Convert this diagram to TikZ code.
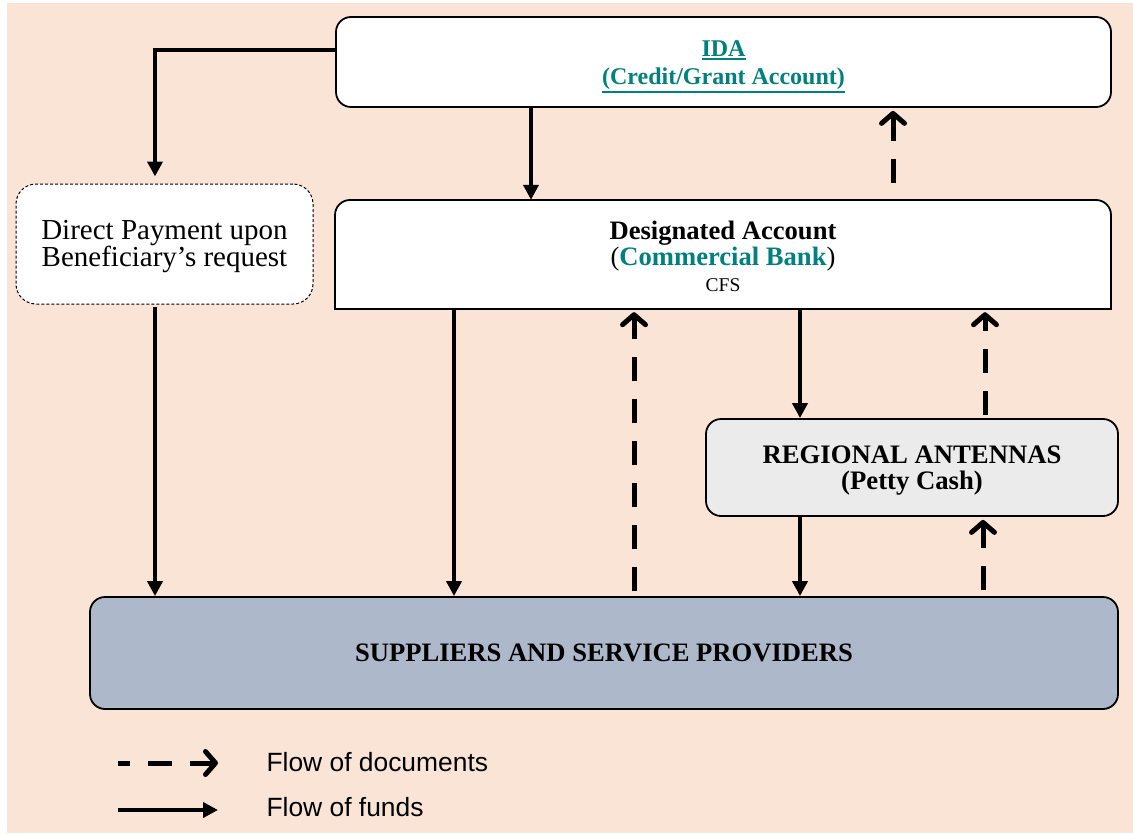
\documentclass[tikz,border=0pt]{standalone}
\usepackage{fontspec}
\setmainfont{Liberation Serif}
\newfontfamily\legendfont{Liberation Sans}
\usetikzlibrary{arrows.meta}
\definecolor{bgpeach}{RGB}{250,228,214}
\definecolor{tealtxt}{RGB}{0,128,128}
\definecolor{suppfill}{RGB}{173,184,202}
\definecolor{regfill}{RGB}{235,235,235}
\newcommand\myul[1]{\leavevmode\vtop{\hbox{#1}\kern1.2pt\hrule height 1.8pt}}
\begin{document}
\begin{tikzpicture}[x=1pt,y=-1pt,
  box/.style={draw, line width=1.8pt, rounded corners=15pt, inner sep=0pt},
  txt/.style={align=center, inner sep=0pt},
  fund/.style={line width=4pt, -{Triangle[length=15pt,width=15pt]}},
  doc/.style={line width=5pt, dash pattern=on 24pt off 18pt, -{Straight Barb[length=10pt,width=23pt,round]}},
  legtext/.style={anchor=west, font=\legendfont\fontsize{26.4}{28}\selectfont}
]
\useasboundingbox (0,0) rectangle (1133,835);
\fill[bgpeach] (7,3) rectangle (1133,833);

% IDA
\node[box, fill=white, minimum width=775pt, minimum height=90pt] (ida) at (723.5,62) {};
\node[txt, font=\fontsize{24}{28}\selectfont\bfseries, text=tealtxt] (idat) at (723.5,67)
  {\myul{IDA}\\\myul{(Credit/Grant Account)}};

% Direct payment
\node[draw, line width=1pt, dash pattern=on 3pt off 2pt, rounded corners=20pt,
  fill=white, inner sep=0pt, minimum width=297pt, minimum height=120pt] (dp) at (164.5,244) {};
\node[txt, font=\fontsize{29}{27}\selectfont] (dpt) at (164.5,247)
  {Direct Payment upon\\Beneficiary's request};

% Designated account (rounded top corners only)
\fill[white] (335,309) -- (335,215) arc[start angle=180,end angle=270,radius=15]
  -- (1096,200) arc[start angle=270,end angle=360,radius=15] -- (1111,309) -- cycle;
\draw[line width=1.8pt] (335,309) -- (335,215) arc[start angle=180,end angle=270,radius=15]
  -- (1096,200) arc[start angle=270,end angle=360,radius=15] -- (1111,309) -- cycle;
\node[inner sep=0pt, minimum width=776pt, minimum height=109pt] (da) at (723,254.5) {};
\node[txt] (dat) at (723,256)
  {{\fontsize{26.6}{27}\selectfont\bfseries Designated Account}\\[1pt]
   {\fontsize{26.6}{27}\selectfont(\textcolor{tealtxt}{\bfseries Commercial Bank})}\\[6pt]
   {\fontsize{19.5}{20}\selectfont CFS}};

% Regional antennas
\node[box, fill=regfill, minimum width=412pt, minimum height=97pt] (ra) at (912,467.5) {};
\node[txt, font=\fontsize{26.7}{26}\selectfont\bfseries] (rat) at (912,470.5)
  {REGIONAL ANTENNAS\\(Petty Cash)};

% Suppliers
\node[box, fill=suppfill, minimum width=1028pt, minimum height=112pt,
  font=\fontsize{26.6}{26}\selectfont\bfseries] (sp) at (604,653)
  {SUPPLIERS AND SERVICE PROVIDERS};

% connectors
\draw[fund, shorten >=7pt] (ida.west |- 0,50) -| (155,0 |- dp.north);
\draw[fund] (531,0 |- ida.south) -- (531,0 |- da.north);
\draw[doc, shorten <=17pt, shorten >=3pt] (893,0 |- da.north) -- (893,0 |- ida.south);
\draw[fund, shorten <=2pt] (155,0 |- dp.south) -- (155,0 |- sp.north);
\draw[fund] (454,0 |- da.south) -- (454,0 |- sp.north);
\draw[doc, shorten <=5pt, shorten >=3pt] (634,0 |- sp.north) -- (634,0 |- da.south);
\draw[fund] (800,0 |- da.south) -- (800,0 |- ra.north);
\draw[doc, shorten <=3pt, shorten >=3pt] (985,0 |- ra.north) -- (985,0 |- da.south);
\draw[fund] (800,0 |- ra.south) -- (800,0 |- sp.north);
\draw[doc, shorten <=6pt, shorten >=3pt] (983,0 |- sp.north) -- (983,0 |- ra.south);

% legend
\coordinate (l1a) at (118,763);
\coordinate (l1b) at (218,763);
\coordinate (l2a) at (118,810);
\coordinate (l2b) at (218,810);
\draw[doc, dash phase=12pt] (l1a) -- (l1b);
\draw[fund] (l2a) -- (l2b);
\node[legtext] (lt1) at (263,762) {Flow of documents};
\node[legtext] (lt2) at (263,807) {Flow of funds};
\end{tikzpicture}
\end{document}
